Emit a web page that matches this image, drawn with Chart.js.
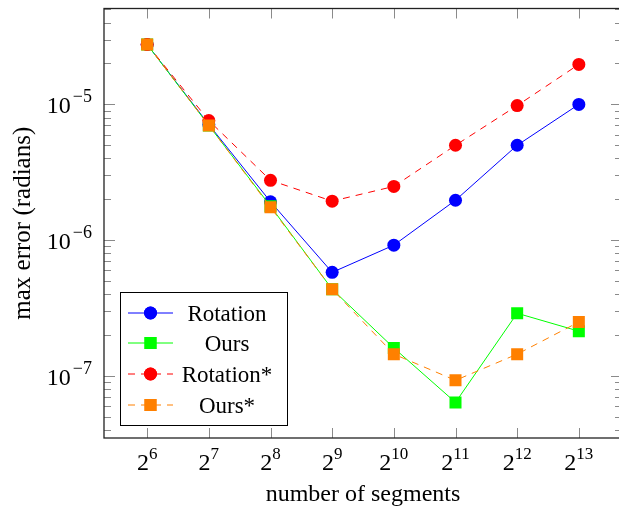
<!DOCTYPE html>
<html>
<head>
<meta charset="utf-8">
<script src="https://cdn.jsdelivr.net/npm/chart.js@4.4.0/dist/chart.umd.min.js"></script>
<style>
  html, body { margin: 0; padding: 0; background: #fff; overflow: hidden; }
  #wrap { width: 619px; height: 511px; overflow: hidden; }
</style>
</head>
<body>
<div id="wrap"><canvas id="chart" width="640" height="511"></canvas></div>
<script>
// -------------------- Data --------------------
const exponents = [6, 7, 8, 9, 10, 11, 12, 13];   // x = 2^n segments
const rotation = [2.76e-5, 7.1e-6, 1.92e-6, 5.8e-7, 9.2e-7, 1.97e-6, 5.0e-6, 1.0e-5];
const ours = [2.76e-5, 7.0e-6, 1.78e-6, 4.36e-7, 1.61e-7, 6.4e-8, 2.9e-7, 2.14e-7];
const rotationStar = [2.76e-5, 7.6e-6, 2.76e-6, 1.94e-6, 2.49e-6, 5.0e-6, 9.8e-6, 1.97e-5];
const oursStar = [2.76e-5, 7.0e-6, 1.75e-6, 4.36e-7, 1.45e-7, 9.3e-8, 1.45e-7, 2.5e-7];
const yDecades = [-7, -6, -5];
const xTitle = 'number of segments';
const yTitle = 'max error (radians)';

const FONT = '"Liberation Serif", "DejaVu Serif", serif';

const toPoints = vals => vals.map((v, i) => ({ x: exponents[i], y: v }));

// -------------------- Axis / legend drawing --------------------
const pgfAxes = {
  id: 'pgfAxes',
  afterDatasetsDraw(chart) {
    const { ctx, chartArea: a, scales } = chart;
    const xs = scales.x, ys = scales.y;
    ctx.save();

    // tick marks (inward, both sides)
    ctx.strokeStyle = '#8a8a8a';
    ctx.lineWidth = 1;
    ctx.beginPath();
    exponents.forEach(e => {
      const px = Math.round(xs.getPixelForValue(e)) + 0.5;
      ctx.moveTo(px, a.bottom); ctx.lineTo(px, a.bottom - 10);
      ctx.moveTo(px, a.top); ctx.lineTo(px, a.top + 10);
    });
    for (let d = -8; d <= -4; d++) {
      for (let m = 1; m <= 9; m++) {
        const v = m * Math.pow(10, d);
        if (v < ys.min || v > ys.max) continue;
        const py = Math.round(ys.getPixelForValue(v)) + 0.5;
        const len = m === 1 ? 11 : 7;
        ctx.moveTo(a.left, py); ctx.lineTo(a.left + len, py);
        ctx.moveTo(a.right, py); ctx.lineTo(a.right - len, py);
      }
    }
    ctx.stroke();

    // frame
    ctx.strokeStyle = '#222';
    ctx.lineWidth = 1.3;
    ctx.strokeRect(a.left, a.top, a.right - a.left, a.bottom - a.top);

    ctx.fillStyle = '#000';
    ctx.textBaseline = 'alphabetic';

    // x tick labels 2^n
    exponents.forEach(e => {
      const px = xs.getPixelForValue(e);
      ctx.font = '24px ' + FONT;
      const wb = ctx.measureText('2').width;
      ctx.font = '17px ' + FONT;
      const we = ctx.measureText(String(e)).width;
      const x0 = px - (wb + we) / 2;
      ctx.textAlign = 'left';
      ctx.font = '24px ' + FONT;
      ctx.fillText('2', x0, a.bottom + 32);
      ctx.font = '17px ' + FONT;
      ctx.fillText(String(e), x0 + wb, a.bottom + 21);
    });

    // y tick labels 10^d
    yDecades.forEach(d => {
      const py = ys.getPixelForValue(Math.pow(10, d));
      const exp = '\u2212' + Math.abs(d);
      ctx.font = '18px ' + FONT;
      const we = ctx.measureText(exp).width;
      ctx.textAlign = 'left';
      const xr = a.left - 12;
      ctx.fillText(exp, xr - we, py - 2);
      ctx.font = '24px ' + FONT;
      ctx.textAlign = 'right';
      ctx.fillText('10', xr - we - 2, py + 9);
    });

    // axis titles
    ctx.font = '24px ' + FONT;
    ctx.textAlign = 'center';
    ctx.fillText(xTitle, (a.left + a.right) / 2, 501);
    ctx.save();
    ctx.translate(30, (a.top + a.bottom) / 2);
    ctx.rotate(-Math.PI / 2);
    ctx.font = '25px ' + FONT;
    ctx.fillText(yTitle, 0, 0);
    ctx.restore();

    // legend box (bottom left inside the axis)
    const box = { x: 120.5, y: 292.5, w: 167, h: 133 };
    ctx.fillStyle = '#fff';
    ctx.fillRect(box.x, box.y, box.w, box.h);
    ctx.strokeStyle = '#000';
    ctx.lineWidth = 1;
    ctx.strokeRect(box.x, box.y, box.w, box.h);

    const rows = [313, 343, 374, 405];
    chart.data.datasets.forEach((ds, i) => {
      const cy = rows[i];
      ctx.strokeStyle = ds.borderColor;
      ctx.lineWidth = 1;
      ctx.setLineDash(ds.borderDash || []);
      ctx.beginPath();
      ctx.moveTo(128, cy); ctx.lineTo(173, cy);
      ctx.stroke();
      ctx.setLineDash([]);
      ctx.fillStyle = ds.pointBackgroundColor;
      Chart.helpers.drawPoint(ctx, {
        pointStyle: ds.pointStyle, radius: ds.pointRadius, borderWidth: 0, rotation: 0
      }, 150.5, cy);
      ctx.fill();
      ctx.fillStyle = '#000';
      ctx.font = '23px ' + FONT;
      ctx.textAlign = 'center';
      ctx.fillText(ds.label, 227, cy + 8);
    });

    ctx.restore();
  }
};

// -------------------- Chart --------------------
const seriesStyle = (label, vals, color, style, dashed, order) => ({
  label,
  data: toPoints(vals),
  borderColor: color,
  backgroundColor: color,
  pointBackgroundColor: color,
  pointBorderColor: color,
  pointBorderWidth: 0,
  pointStyle: style,
  pointRadius: style === 'rect' ? 8.5 : 6.5,
  borderWidth: 1,
  borderDash: dashed ? [7, 6] : [],
  tension: 0,
  fill: false,
  order
});

new Chart(document.getElementById('chart'), {
  type: 'line',
  data: {
    datasets: [
      seriesStyle('Rotation', rotation, '#0000ff', 'circle', false, 4),
      seriesStyle('Ours', ours, '#00ff00', 'rect', false, 3),
      seriesStyle('Rotation*', rotationStar, '#ff0000', 'circle', true, 2),
      seriesStyle('Ours*', oursStar, '#ff8000', 'rect', true, 1)
    ]
  },
  options: {
    responsive: false,
    animation: false,
    layout: { padding: { left: 104, top: 8, right: 18, bottom: 73 } },
    plugins: { legend: { display: false }, tooltip: { enabled: false } },
    scales: {
      x: { type: 'linear', min: 5.3, max: 13.7, display: false },
      y: { type: 'logarithmic', min: 3.5e-8, max: 5.08e-5, display: false }
    }
  },
  plugins: [pgfAxes]
});
</script>
</body>
</html>
